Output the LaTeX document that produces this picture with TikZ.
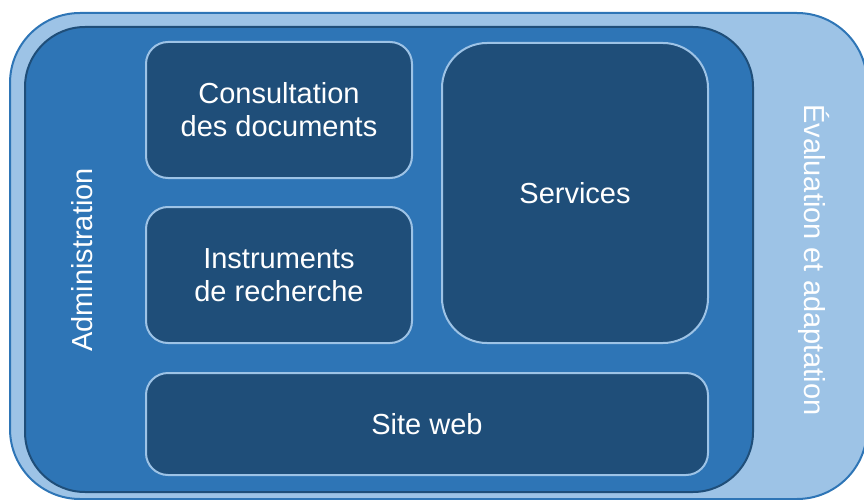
\documentclass[tikz,border=0pt]{standalone}
\usepackage{fontspec}
\setmainfont{Liberation Sans}
\definecolor{lightblue}{HTML}{9DC3E6}
\definecolor{midblue}{HTML}{2E75B6}
\definecolor{darkblue}{HTML}{1F4E79}
\begin{document}
\begin{tikzpicture}[x=1pt,y=-1pt,
    block/.style={draw=lightblue,fill=darkblue,line width=2pt,rounded corners=22pt,text=white,
      align=center,inner sep=0pt,font=\fontsize{29}{33}\selectfont},
    sidetext/.style={text=white,inner sep=0pt,anchor=mid,font=\fontsize{29}{33}\selectfont}]
  \useasboundingbox (0,0) rectangle (864,500);
  \draw[fill=lightblue,draw=midblue,line width=2pt,rounded corners=70pt] (10,13) rectangle (867,499);
  \draw[fill=midblue,draw=darkblue,line width=2pt,rounded corners=60pt] (25,27) rectangle (753,492);
  \node[block,minimum width=266pt,minimum height=136pt] (consult) at (279,110) {Consultation\\des documents};
  \node[block,minimum width=266pt,minimum height=136pt] (instr) at (279,275) {Instruments\\de recherche};
  \node[block,minimum width=266pt,minimum height=300pt,rounded corners=45pt] (services) at (575,193) {Services};
  \node[block,minimum width=562pt,minimum height=102pt] (siteweb) at (427,424) {Site web};
  \node[sidetext,rotate=90] (admin) at (89.5,260) {Administration};
  \node[sidetext,rotate=-90] (evaluation) at (807.5,260) {Évaluation et adaptation};
\end{tikzpicture}
\end{document}
